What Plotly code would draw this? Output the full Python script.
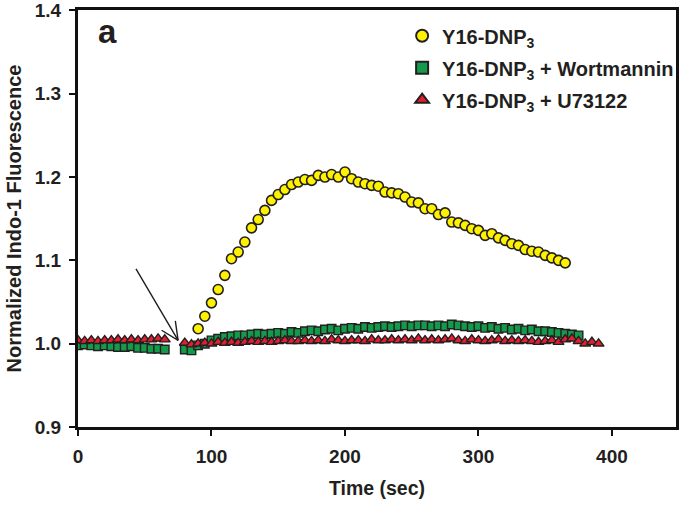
import plotly.graph_objects as go

# ---- data ----
t_yellow = [90, 95, 100, 105, 110, 115, 120, 125, 130, 135, 140, 145, 150, 155, 160, 165,
            170, 175, 180, 185, 190, 195, 200, 205, 210, 215, 220, 225, 230, 235, 240, 245,
            250, 255, 260, 265, 270, 275, 280, 285, 290, 295, 300, 305, 310, 315, 320, 325,
            330, 335, 340, 345, 350, 355, 360, 365]
v_yellow = [1.018, 1.033, 1.049, 1.065, 1.082, 1.102, 1.110, 1.122, 1.139, 1.149, 1.160, 1.172,
            1.179, 1.185, 1.191, 1.194, 1.197, 1.196, 1.202, 1.200, 1.203, 1.200, 1.206, 1.198,
            1.194, 1.192, 1.190, 1.189, 1.182, 1.181, 1.180, 1.176, 1.170, 1.169, 1.162, 1.162,
            1.155, 1.157, 1.146, 1.145, 1.142, 1.138, 1.136, 1.130, 1.132, 1.127, 1.124, 1.120,
            1.118, 1.113, 1.111, 1.110, 1.106, 1.103, 1.100, 1.097]

t_green = [0, 5, 10, 15, 20, 25, 30, 35, 40, 45, 50, 55, 60, 65,
           80, 85, 90, 95, 100, 105, 110, 115, 120, 125, 130, 135, 140, 145, 150, 155,
           160, 165, 170, 175, 180, 185, 190, 195, 200, 205, 210, 215, 220, 225, 230, 235,
           240, 245, 250, 255, 260, 265, 270, 275, 280, 285, 290, 295, 300, 305, 310, 315,
           320, 325, 330, 335, 340, 345, 350, 355, 360, 365, 370, 375]
v_green = [0.998, 0.999, 0.998, 0.997, 0.998, 0.997, 0.996, 0.996, 0.997, 0.995, 0.995, 0.994, 0.994, 0.993,
           0.993, 0.992, 0.998, 1.000, 1.004, 1.006, 1.008, 1.009, 1.010, 1.010, 1.011, 1.012, 1.011, 1.012,
           1.013, 1.012, 1.014, 1.013, 1.015, 1.016, 1.015, 1.017, 1.018, 1.016, 1.018, 1.019, 1.018, 1.020,
           1.019, 1.020, 1.021, 1.020, 1.021, 1.022, 1.021, 1.022, 1.022, 1.021, 1.022, 1.021, 1.023, 1.022,
           1.021, 1.020, 1.021, 1.019, 1.020, 1.018, 1.019, 1.017, 1.018, 1.016, 1.017, 1.015, 1.015, 1.014,
           1.013, 1.012, 1.011, 1.010]

t_red = [0, 5, 10, 15, 20, 25, 30, 35, 40, 45, 50, 55, 60, 65,
         80, 85, 90, 95, 100, 105, 110, 115, 120, 125, 130, 135, 140, 145, 150, 155,
         160, 165, 170, 175, 180, 185, 190, 195, 200, 205, 210, 215, 220, 225, 230, 235,
         240, 245, 250, 255, 260, 265, 270, 275, 280, 285, 290, 295, 300, 305, 310, 315,
         320, 325, 330, 335, 340, 345, 350, 355, 360, 365, 370, 375, 380, 385, 390]
v_red = [1.004, 1.003, 1.004, 1.003, 1.004, 1.004, 1.005, 1.004, 1.005, 1.004, 1.005, 1.005, 1.006, 1.005,
         1.001, 0.999, 1.000, 1.001, 1.000, 1.002, 1.001, 1.002, 1.001, 1.002, 1.003, 1.002, 1.003, 1.002,
         1.003, 1.004, 1.003, 1.003, 1.004, 1.003, 1.004, 1.003, 1.005, 1.004, 1.003, 1.004, 1.004, 1.003,
         1.005, 1.004, 1.004, 1.005, 1.004, 1.005, 1.004, 1.006, 1.004, 1.005, 1.004, 1.005, 1.006, 1.004,
         1.003, 1.005, 1.004, 1.003, 1.004, 1.005, 1.003, 1.004, 1.003, 1.004, 1.003, 1.002, 1.003, 1.004,
         1.002, 1.005, 1.006, 1.003, 1.000, 1.002, 1.000]

names = ["Y16-DNP<sub>3</sub>", "Y16-DNP<sub>3</sub> + Wortmannin", "Y16-DNP<sub>3</sub> + U73122"]
x_ticks = [0, 100, 200, 300, 400]
y_ticks = [0.9, 1.0, 1.1, 1.2, 1.3, 1.4]

OUTLINE = "#231f20"
FONT = "Liberation Sans, Arial, sans-serif"

fig = go.Figure()
fig.add_trace(go.Scatter(x=t_yellow, y=v_yellow, mode="markers", name=names[0], legendgroup="a",
                         marker=dict(symbol="circle", size=10, color="#fff200",
                                     line=dict(color=OUTLINE, width=1.6))))
fig.add_trace(go.Scatter(x=t_green, y=v_green, mode="markers", name=names[1], legendgroup="b",
                         marker=dict(symbol="square", size=8.5, color="#139a4a",
                                     line=dict(color=OUTLINE, width=1.4))))
fig.add_trace(go.Scatter(x=t_red, y=v_red, mode="markers", name=names[2], legendgroup="c",
                         marker=dict(symbol="triangle-up", size=9.5, color="#e21f30",
                                     line=dict(color=OUTLINE, width=1.4))))

axis_common = dict(showgrid=False, zeroline=False, showline=True, linecolor="#111111", linewidth=3,
                   mirror=True, ticks="outside", ticklen=6, tickwidth=1.5, tickcolor="#111111",
                   ticklabelstandoff=4, ticklabeloverflow="allow",
                   tickfont=dict(family=FONT, size=19, color="#231f20", weight="bold"))

fig.update_layout(
    width=680, height=505,
    margin=dict(l=78, r=4, t=10, b=78, autoexpand=False),
    paper_bgcolor="white", plot_bgcolor="white",
    font=dict(family=FONT, color="#231f20"),
    xaxis=dict(range=[0, 448], tickvals=x_ticks,
               title=dict(text="Time (sec)", font=dict(family=FONT, size=19.5, weight="bold"), standoff=16),
               **axis_common),
    yaxis=dict(range=[0.9, 1.4005], tickvals=y_ticks, tickformat=".1f",
               title=dict(text="Normalized Indo-1 Fluorescence", font=dict(family=FONT, size=20, weight="bold"),
                          standoff=8),
               **axis_common),
    legend=dict(x=0.542, y=0.985, xanchor="left", yanchor="top", bgcolor="rgba(0,0,0,0)",
                font=dict(family=FONT, size=20, weight="bold", color="#231f20"),
                tracegroupgap=3, itemsizing="constant"),
    showlegend=True,
)

fig.add_annotation(text="a", xref="paper", yref="paper", x=0.05, y=0.9475, xanchor="center",
                   yanchor="middle", showarrow=False,
                   font=dict(family=FONT, size=33, weight="bold", color="#231f20"))
# arrow: shaft plus an open V head, offsets in pixels from the tip
tip_x, tip_y = 75, 1.004
for ax, ay in [(-43, -73), (-3, -21), (-18, -11)]:
    fig.add_annotation(x=tip_x, y=tip_y, ax=ax, ay=ay, xref="x", yref="y", text="",
                       showarrow=True, arrowhead=0, arrowwidth=1.4, arrowcolor="#231f20")

fig.write_html("out.html", config={"displayModeBar": False},
               post_script="document.body.style.margin='0';")
